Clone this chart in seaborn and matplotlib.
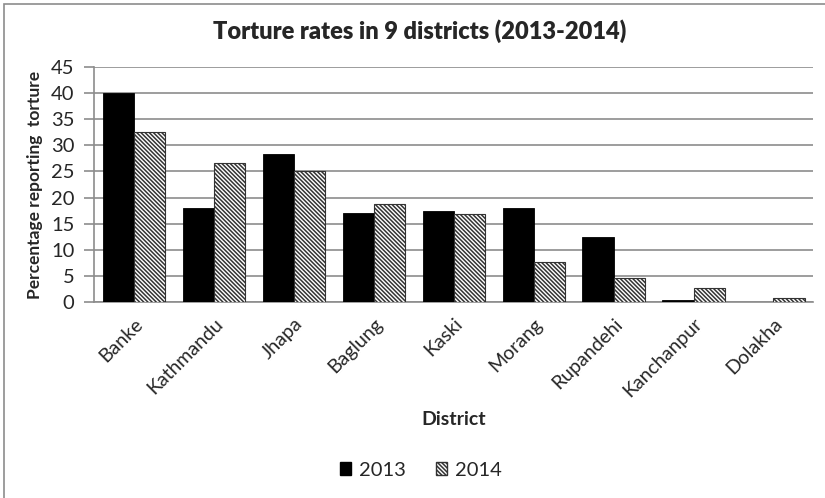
import seaborn as sns
import matplotlib.pyplot as plt
import pandas as pd
from matplotlib.patches import Patch, Rectangle

# values
districts = ["Banke", "Kathmandu", "Jhapa", "Baglung", "Kaski",
             "Morang", "Rupandehi", "Kanchanpur", "Dolakha"]
rate_2013 = [40, 18, 28.3, 17, 17.4, 18, 12.5, 0.4, 0]
rate_2014 = [32.5, 26.7, 25, 18.7, 16.8, 7.6, 4.5, 2.7, 0.8]
years = ["2013", "2014"]
y_ticks = [0, 5, 10, 15, 20, 25, 30, 35, 40, 45]

HATCH = "\\" * 8


def visualize_data(df):
    sns.set_style("white")
    plt.rcParams["font.family"] = ["Lato", "DejaVu Sans"]
    plt.rcParams["hatch.linewidth"] = 1.1
    plt.rcParams["hatch.color"] = "#1a1a1a"

    fig = plt.figure(figsize=(8.25, 4.98), dpi=100)
    ax = fig.add_axes([0.114, 0.3936, 0.872, 0.472])

    sns.barplot(data=df, x="District", y="Rate", hue="Year", hue_order=years,
                palette=["black", "white"], width=0.78, legend=False, ax=ax,
                zorder=3)

    for bar in ax.containers[0]:
        bar.set_edgecolor("black")
        bar.set_linewidth(0.6)
    for bar in ax.containers[1]:
        bar.set_hatch(HATCH)
        bar.set_edgecolor("#333333")
        bar.set_linewidth(0.8)

    ax.set_xlim(-0.5, len(districts) - 0.5)
    ax.set_ylim(0, 45)
    ax.set_yticks(y_ticks)
    ax.yaxis.grid(True, color="#8c8c8c", linewidth=1.2, zorder=0)
    ax.set_axisbelow(True)
    for side in ["top", "right"]:
        ax.spines[side].set_visible(False)
    for side in ["left", "bottom"]:
        ax.spines[side].set_color("#8c8c8c")
        ax.spines[side].set_linewidth(1.2)

    ax.tick_params(axis="y", left=True, length=7, width=1.2, color="#8c8c8c",
                   labelsize=14.5, pad=7)
    ax.tick_params(axis="x", bottom=False, labelsize=14, pad=6)
    plt.setp(ax.get_xticklabels(), rotation=45, ha="right",
             rotation_mode="anchor")

    ax.set_xlabel("District", fontsize=14, fontweight="bold", labelpad=8)
    ax.set_ylabel("Percentage reporting  torture", fontsize=12.5,
                  fontweight="bold", labelpad=6)
    fig.suptitle("Torture rates in 9 districts (2013-2014)", fontsize=17,
                 fontweight="heavy", x=0.509, y=0.962)

    handles = [Patch(facecolor="black", edgecolor="black", label="2013"),
               Patch(facecolor="white", edgecolor="#333333", hatch=HATCH,
                     label="2014")]
    fig.legend(handles=handles, loc="center", bbox_to_anchor=(0.51, 0.056),
               ncol=2, frameon=False, fontsize=14.5, handlelength=0.55,
               handleheight=0.55, handletextpad=0.4, columnspacing=1.5)

    # chart border (cropped on the right and bottom)
    fig.patches.append(Rectangle((0.005, -0.1), 1.2, 1.092,
                                 transform=fig.transFigure, fill=False,
                                 edgecolor="#8c8c8c", linewidth=1.2))

    fig.savefig("out.png", dpi=100)


def main():
    df = pd.DataFrame({
        "District": districts * 2,
        "Year": ["2013"] * len(districts) + ["2014"] * len(districts),
        "Rate": rate_2013 + rate_2014,
    })
    visualize_data(df)


if __name__ == "__main__":
    main()
